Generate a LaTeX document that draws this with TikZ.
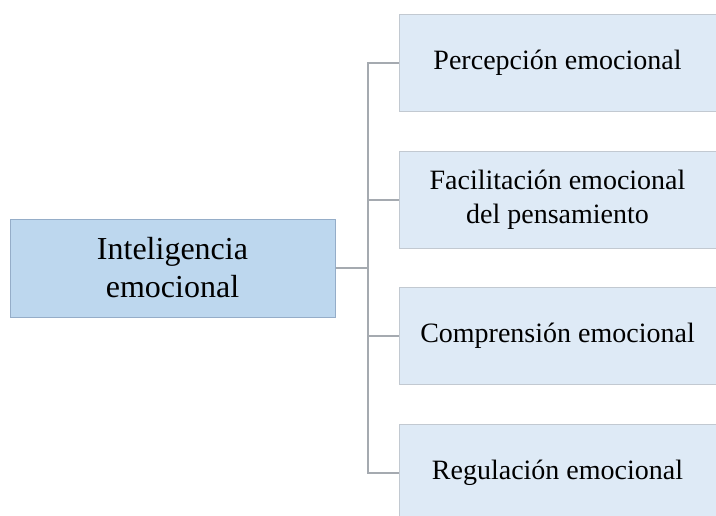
\documentclass[tikz,border=0pt]{standalone}
\usepackage{fontspec}
\setmainfont{Liberation Serif}
\usepackage{tikz}
\usetikzlibrary{positioning}
\definecolor{mainfill}{HTML}{BDD7EE}
\definecolor{mainline}{HTML}{95ADC8}
\definecolor{subfill}{HTML}{DEEAF6}
\definecolor{subline}{HTML}{C2C9D1}
\definecolor{linkgray}{HTML}{A5AAB0}
\tikzset{
  mainbox/.style={
    draw=mainline,
    fill=mainfill,
    line width=1pt,
    minimum width=325pt,
    minimum height=98pt,
    align=center,
    font=\fontsize{32}{38}\selectfont
  },
  subbox/.style={
    draw=subline,
    fill=subfill,
    line width=1pt,
    minimum width=317pt,
    minimum height=97pt,
    align=center,
    font=\fontsize{28}{34}\selectfont
  },
  link/.style={draw=linkgray, line width=1.2pt}
}

\begin{document}
\begin{tikzpicture}[x=1pt, y=-1pt]
  \useasboundingbox (0,0) rectangle (716,515);

  % Central node
  \node[mainbox] (ie) at (172.5,268) {Inteligencia\\emocional};

  % Branches
  \node[subbox] (per) at (557.5,63) {Percepción emocional};
  \node[subbox] (fac) at (557.5,200) {Facilitación emocional\\del pensamiento};
  \node[subbox] (com) at (557.5,336) {Comprensión emocional};
  \node[subbox] (reg) at (557.5,473) {Regulación emocional};

  % Connectors
  \coordinate (j) at (368,268);
  \draw[link] (ie.east) -- (j);
  \foreach \n in {per,fac,com,reg}
    \draw[link] (j) |- (\n.west);
\end{tikzpicture}
\end{document}
